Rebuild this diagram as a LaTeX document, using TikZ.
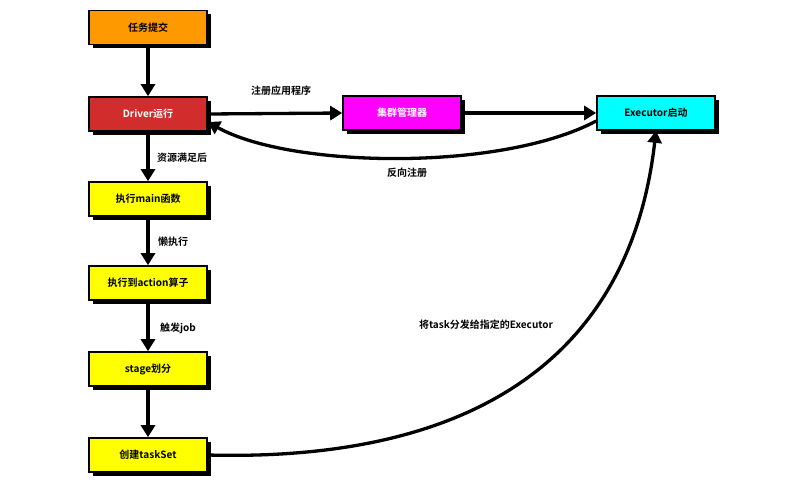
\documentclass[tikz,border=0pt]{standalone}
\usepackage{fontspec}
\setmainfont{Noto Sans CJK SC}[BoldFont={Noto Sans CJK SC Bold}]
\usetikzlibrary{arrows.meta,shadows}
\definecolor{corange}{HTML}{FF9900}
\definecolor{cred}{HTML}{D12D2D}
\definecolor{cmag}{HTML}{FF00FF}
\definecolor{ccyan}{HTML}{00FFFF}
\definecolor{cyel}{HTML}{FFFF00}
\tikzset{
  box/.style={draw=black, line width=1.6pt, minimum width=118pt, minimum height=34pt,
    inner sep=0pt, font=\fontsize{10}{12}\selectfont\bfseries,
    drop shadow={shadow xshift=3.5pt, shadow yshift=-3.5pt, fill=black, opacity=1}},
  conn/.style={line width=3.3pt, -{Triangle[length=12pt,width=14pt]}},
  lbl/.style={font=\fontsize{10}{12}\selectfont\bfseries, inner sep=1pt}
}
\begin{document}
\begin{tikzpicture}[x=1pt,y=-1pt]
\useasboundingbox (0,0) rectangle (807,496);
\node[box, fill=corange] (submit) at (148,27.5) {任务提交};
\node[box, fill=cred, text=white] (driver) at (148,114) {Driver运行};
\node[box, fill=cmag, text=white] (cm) at (402,113) {集群管理器};
\node[box, fill=ccyan] (exec) at (656,113) {Executor启动};
\node[box, fill=cyel] (main) at (148,199) {执行main函数};
\node[box, fill=cyel] (action) at (148,283) {执行到action算子};
\node[box, fill=cyel] (stage) at (148,369) {stage划分};
\node[box, fill=cyel] (taskset) at (148,455) {创建taskSet};

\draw[conn] (submit) -- (driver);
\draw[conn] (driver) -- (main);
\draw[conn] (main) -- (action);
\draw[conn] (action) -- (stage);
\draw[conn] (stage) -- (taskset);
\draw[conn] (driver.east) -- (cm.west);
\draw[conn] (cm.east) -- (exec.west);
\draw[conn] (exec.west |- 0,121) .. controls (500,172) and (290,168) .. (driver.east |- 0,122);
\draw[conn] (taskset.east) .. controls (470,462) and (630,360) .. (exec.south);
\node[lbl] (l1) at (182,158) {资源满足后};
\node[lbl] (l2) at (173,242) {懒执行};
\node[lbl] (l3) at (178,328) {触发job};
\node[lbl] (l4) at (281,91) {注册应用程序};
\node[lbl] (rev) at (407,173) {反向注册};
\node[lbl] (dist) at (486,325) {将task分发给指定的Executor};
\end{tikzpicture}
\end{document}
